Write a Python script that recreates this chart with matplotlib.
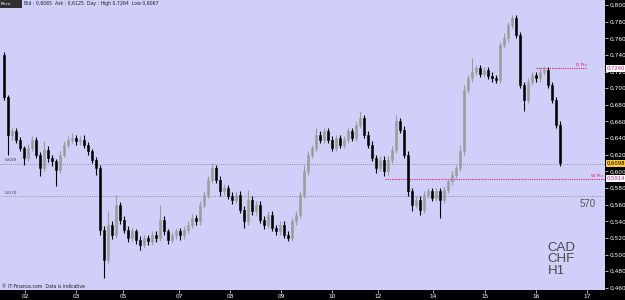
import matplotlib
matplotlib.use("Agg")
import matplotlib.pyplot as plt
import numpy as np

# ---------------- data (CAD/CHF, H1 chart, each entry ~2 hours) ----------------
first_open = 0.740
closes = [0.690, 0.644, 0.648, 0.638, 0.628, 0.616, 0.628, 0.638, 0.620, 0.604,
          0.626, 0.616, 0.612, 0.602, 0.620, 0.632, 0.638, 0.640, 0.636, 0.638,
          0.632, 0.624, 0.614, 0.604, 0.530, 0.494, 0.536, 0.524, 0.560, 0.542,
          0.530, 0.520, 0.528, 0.518, 0.512, 0.520, 0.516, 0.524, 0.520, 0.542,
          0.528, 0.518, 0.523, 0.528, 0.523, 0.530, 0.536, 0.544, 0.540, 0.560,
          0.572, 0.590, 0.604, 0.590, 0.576, 0.580, 0.571, 0.566, 0.572, 0.554,
          0.540, 0.566, 0.552, 0.560, 0.542, 0.536, 0.548, 0.532, 0.528, 0.536,
          0.524, 0.520, 0.540, 0.548, 0.572, 0.600, 0.620, 0.628, 0.644, 0.638,
          0.648, 0.638, 0.628, 0.640, 0.632, 0.638, 0.648, 0.640, 0.656, 0.664,
          0.644, 0.632, 0.616, 0.604, 0.614, 0.600, 0.614, 0.626, 0.660, 0.650,
          0.620, 0.576, 0.560, 0.566, 0.554, 0.572, 0.576, 0.568, 0.576, 0.566,
          0.578, 0.588, 0.596, 0.604, 0.624, 0.698, 0.712, 0.720, 0.724, 0.717,
          0.722, 0.715, 0.712, 0.710, 0.752, 0.760, 0.776, 0.784, 0.764, 0.704,
          0.686, 0.708, 0.716, 0.712, 0.720, 0.722, 0.704, 0.686, 0.656, 0.610]
highs = [0.744, 0.692, 0.652, 0.652, 0.641, 0.630, 0.633, 0.643, 0.641, 0.623,
         0.636, 0.630, 0.620, 0.615, 0.624, 0.636, 0.642, 0.646, 0.644, 0.642,
         0.644, 0.635, 0.627, 0.617, 0.608, 0.534, 0.552, 0.540, 0.572, 0.563,
         0.546, 0.534, 0.533, 0.531, 0.522, 0.524, 0.524, 0.528, 0.528, 0.560,
         0.546, 0.531, 0.527, 0.532, 0.532, 0.534, 0.540, 0.549, 0.548, 0.564,
         0.576, 0.594, 0.610, 0.608, 0.594, 0.585, 0.584, 0.575, 0.576, 0.576,
         0.558, 0.578, 0.570, 0.564, 0.564, 0.546, 0.552, 0.552, 0.536, 0.540,
         0.540, 0.528, 0.544, 0.552, 0.576, 0.608, 0.624, 0.632, 0.652, 0.648,
         0.652, 0.652, 0.642, 0.644, 0.644, 0.642, 0.652, 0.652, 0.660, 0.672,
         0.668, 0.648, 0.636, 0.620, 0.618, 0.618, 0.618, 0.630, 0.668, 0.664,
         0.654, 0.624, 0.580, 0.570, 0.570, 0.576, 0.580, 0.580, 0.580, 0.580,
         0.582, 0.592, 0.600, 0.608, 0.632, 0.704, 0.716, 0.736, 0.728, 0.728,
         0.726, 0.726, 0.719, 0.716, 0.756, 0.766, 0.780, 0.788, 0.788, 0.768,
         0.708, 0.712, 0.720, 0.720, 0.724, 0.727, 0.726, 0.708, 0.690, 0.660]
lows = [0.686, 0.620, 0.638, 0.634, 0.624, 0.608, 0.612, 0.625, 0.616, 0.595,
        0.601, 0.611, 0.606, 0.583, 0.598, 0.617, 0.629, 0.634, 0.632, 0.632,
        0.628, 0.620, 0.610, 0.596, 0.524, 0.472, 0.490, 0.519, 0.520, 0.537,
        0.526, 0.515, 0.516, 0.513, 0.506, 0.508, 0.511, 0.512, 0.515, 0.516,
        0.524, 0.513, 0.514, 0.519, 0.518, 0.519, 0.526, 0.532, 0.536, 0.536,
        0.556, 0.568, 0.586, 0.586, 0.571, 0.572, 0.567, 0.561, 0.562, 0.550,
        0.532, 0.536, 0.548, 0.548, 0.538, 0.531, 0.532, 0.528, 0.523, 0.524,
        0.520, 0.516, 0.516, 0.536, 0.544, 0.568, 0.596, 0.616, 0.624, 0.634,
        0.634, 0.634, 0.624, 0.624, 0.628, 0.628, 0.634, 0.636, 0.636, 0.652,
        0.640, 0.628, 0.612, 0.598, 0.600, 0.594, 0.596, 0.610, 0.622, 0.646,
        0.616, 0.570, 0.552, 0.556, 0.548, 0.550, 0.568, 0.564, 0.564, 0.544,
        0.562, 0.574, 0.584, 0.592, 0.600, 0.620, 0.694, 0.708, 0.716, 0.713,
        0.713, 0.711, 0.708, 0.706, 0.706, 0.748, 0.756, 0.772, 0.760, 0.700,
        0.672, 0.682, 0.704, 0.708, 0.708, 0.716, 0.700, 0.682, 0.652, 0.607]

day_labels = ["02", "03", "05", "07", "08", "09", "10", "12", "14", "15", "16", "17"]
day_bar_pos = [5.25, 18.0, 29.75, 43.75, 56.5, 69.25, 82.0, 93.5, 107.25, 120.25, 133.0, 145.75]

ytick_values = [0.800, 0.780, 0.760, 0.740, 0.720, 0.700, 0.680, 0.660, 0.640,
                0.620, 0.600, 0.580, 0.560, 0.540, 0.520, 0.500, 0.480, 0.460]

level_1 = 0.609   # grey dotted
level_2 = 0.570   # grey dotted
w_pivot = 0.5914
d_pivot = 0.7240
last_price = 0.6098
w_piv_start = 95.25
d_piv_start = 133.0
d_piv_end = 145.75

# ---------------- figure ----------------
W, H = 625, 300
fig = plt.figure(figsize=(W / 100, H / 100), dpi=100, facecolor="black")
ax = fig.add_axes([0, 10 / H, 605 / W, 290 / H])
bg = "#cfcff9"
ax.set_facecolor(bg)

closes = np.array(closes)
opens = np.r_[first_open, closes[:-1]]
highs = np.array(highs)
lows = np.array(lows)
idx = np.arange(len(closes))
up = closes >= opens

up_col = "#9c9c9c"
dn_col = "#000000"
colors = np.where(up, up_col, dn_col)

ax.vlines(idx, lows, highs, colors=colors, linewidth=0.8, zorder=3)
body_h = np.abs(closes - opens)
body_h = np.maximum(body_h, 0.0008)
ax.bar(idx, body_h, bottom=np.minimum(opens, closes), width=0.6,
       color=colors, edgecolor=colors, linewidth=0.4, zorder=4)

ax.set_xlim(-1, -1 + 605 / 4)
ax.set_ylim(0.806 - 290 / 832, 0.806)

# reference lines
ax.axhline(level_1, color="#808080", linestyle=(0, (1, 1.5)), linewidth=0.6, zorder=2)
ax.axhline(level_2, color="#808080", linestyle=(0, (1, 1.5)), linewidth=0.6, zorder=2)
ax.text(0.3, level_1 + 0.002, "0,609", fontsize=3.2, color="#404040", va="bottom", ha="left")
ax.text(0.3, level_2 + 0.002, "0,570", fontsize=3.2, color="#404040", va="bottom", ha="left")
ax.text(146.0, level_2 - 0.003, "570", fontsize=7, color="#555555", va="top", ha="center",
        family="Liberation Sans")

piv_col = "#e0206a"
ax.hlines(w_pivot, w_piv_start, 150.25, color=piv_col, linestyle=(0, (1, 1)), linewidth=0.8, zorder=2)
ax.text(149.8, w_pivot + 0.001, "W Piv", fontsize=3.2, color=piv_col, ha="right", va="bottom")
ax.hlines(d_pivot, d_piv_start, d_piv_end, color=piv_col, linestyle=(0, (1, 1)), linewidth=0.8, zorder=2)
ax.text(d_piv_end, d_pivot + 0.001, "D Piv", fontsize=3.2, color=piv_col, ha="right", va="bottom")

ax.text(0.905, 0.045, "CAD\nCHF\nH1", transform=ax.transAxes, fontsize=9.5,
        color="#4a4a4a", ha="left", va="bottom", linespacing=0.95, family="Liberation Sans")

# axes styling
for s in ax.spines.values():
    s.set_visible(False)
ax.yaxis.tick_right()
ax.set_yticks(ytick_values)
ax.set_yticklabels([f"{v:.3f}".replace(".", ",") for v in ytick_values])
ax.tick_params(axis="y", colors="white", labelsize=4.2, length=2, width=0.5, pad=1)
ax.set_xticks(day_bar_pos)
ax.set_xticklabels(day_labels)
ax.tick_params(axis="x", colors="white", labelsize=4.2, length=2, width=0.5, pad=1)

# price markers on the right axis
def marker(y, text, fc, tc):
    ax.annotate(text, xy=(1.0, y), xycoords=("axes fraction", "data"),
                xytext=(1.5, 0), textcoords="offset points", fontsize=3.8,
                color=tc, va="center", ha="left", annotation_clip=False,
                bbox=dict(boxstyle="square,pad=0.15", fc=fc, ec="none"), zorder=10)

marker(last_price, "0,6098", "#ffcc33", "black")
marker(w_pivot, "0,5914", "white", "#bb2288")
marker(d_pivot, "0,7240", "white", "#bb2288")

# header
fig.patches.append(plt.Rectangle((0, 1 - 8 / H), 22 / W, 8 / H, transform=fig.transFigure,
                                 fc="#303030", ec="none"))
fig.text(1 / W, 1 - 4 / H, "Price", fontsize=3.2, color="white", va="center", ha="left")
fig.text(24 / W, 1 - 4 / H, "Bid : 0,6065  Ask : 0,6125  Day : High 0,7264  Low 0,6067",
         fontsize=3.3, color="#202020", va="center", ha="left")
fig.text(2 / W, 13 / H, "\u00a9 IT-Finance.com  Data is indicative", fontsize=3.3,
         color="#202020", va="center", ha="left")

fig.savefig("out.png", dpi=100, facecolor="black")
